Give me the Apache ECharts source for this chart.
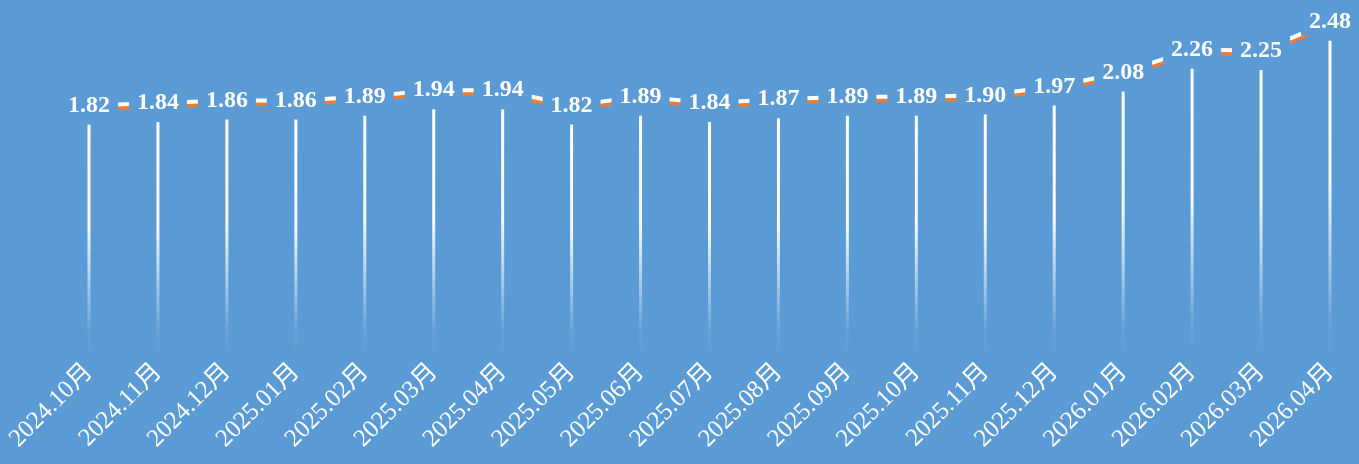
<!DOCTYPE html>
<html><head><meta charset="utf-8">
<script src="https://cdn.jsdelivr.net/npm/echarts@6/dist/echarts.min.js"></script>
<style>html,body{margin:0;padding:0;background:#5B9BD5;}#c{width:1359px;height:464px;}</style>
</head><body><div id="c"></div>
<script>
var categories = ["2024.10月","2024.11月","2024.12月","2025.01月","2025.02月","2025.03月","2025.04月","2025.05月","2025.06月","2025.07月","2025.08月","2025.09月","2025.10月","2025.11月","2025.12月","2026.01月","2026.02月","2026.03月","2026.04月"];
var values = [1.82,1.84,1.86,1.86,1.89,1.94,1.94,1.82,1.89,1.84,1.87,1.89,1.89,1.90,1.97,2.08,2.26,2.25,2.48];

var chart = echarts.init(document.getElementById('c'), null, {renderer:'canvas'});
chart.setOption({
  backgroundColor: '#5B9BD5',
  animation: false,
  grid: {left: 89, right: 29, top: 0, height: 356},
  xAxis: {
    type: 'category', data: categories, boundaryGap: false,
    axisLine: {show: false}, axisTick: {show: false}, splitLine: {show: false},
    axisLabel: {rotate: 45, color: '#fff', fontFamily: 'Liberation Serif, Noto Sans CJK SC', fontSize: 25, margin: 12, interval: 0}
  },
  yAxis: [
    {type: 'value', min: 0, max: 2.8, show: false, splitLine: {show: false}},
    {type: 'value', min: -0.15, max: 2.65, show: false, splitLine: {show: false}}
  ],
  series: [
    {
      type: 'bar', data: values, barWidth: 3, yAxisIndex: 0,
      itemStyle: {color: new echarts.graphic.LinearGradient(0, 0, 0, 1, [
        {offset: 0, color: 'rgba(255,255,255,1)'},
        {offset: 0.45, color: 'rgba(255,255,255,0.95)'},
        {offset: 0.9, color: 'rgba(255,255,255,0.06)'},
        {offset: 1, color: 'rgba(255,255,255,0)'}
      ])}
    },
    {
      type: 'line', data: values, yAxisIndex: 1, clip: false,
      symbol: 'circle', symbolSize: 1, itemStyle: {color: 'rgba(0,0,0,0)'},
      lineStyle: {color: '#fff', width: 4, shadowColor: '#ED7D31', shadowOffsetY: 3.5, shadowBlur: 0},
      label: {
        show: true, position: 'inside', color: '#fff', fontFamily: 'Liberation Serif',
        fontWeight: 'bold', fontSize: 24, backgroundColor: '#5B9BD5', padding: [3, 8, 1, 8],
        formatter: function(p){ return p.value.toFixed(2); }
      }
    }
  ]
});
</script></body></html>
